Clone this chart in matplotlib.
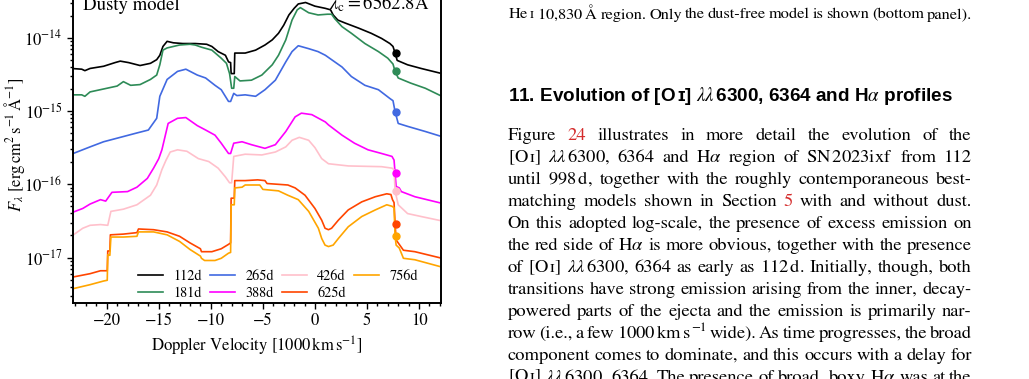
import numpy as np
import matplotlib
matplotlib.use("Agg")
import matplotlib.pyplot as plt
from matplotlib.ticker import MultipleLocator, LogLocator, NullFormatter

plt.rcParams['font.family'] = ['STIXGeneral', 'DejaVu Serif']
plt.rcParams['mathtext.fontset'] = 'stix'

# ---------------- data (velocity in 1000 km/s, log10 flux) ----------------
EPOCHS = ['112d', '181d', '265d', '388d', '426d', '625d', '756d']
COLORS = ['black', 'seagreen', 'royalblue', 'magenta', 'pink', 'orangered', 'orange']

VEL_112 = [-23.4, -22.4, -22.1, -21.6, -20.3, -19.2, -18.7, -17.9, -16.8, -15.8, -15.2, -14.9, -14.6, -14.2,
           -13.6, -12.7, -11.5, -10.4, -9.9, -9.3, -8.6, -8.3, -8.1, -8.05, -7.75, -7.7, -6.7, -5.7, -4.8,
           -4.1, -3.5, -3.0, -2.5, -2.0, -1.6, -0.9, 0.0, 1.0, 1.5, 1.75, 2.2, 2.9, 4.2, 5.4, 6.4, 7.2, 7.5,
           7.7, 7.9, 8.9, 10.2, 12.2]
LOGF_112 = [-14.42, -14.43, -14.45, -14.42, -14.39, -14.34, -14.32, -14.34, -14.38, -14.35, -14.30, -14.24,
            -14.12, -14.05, -14.07, -14.08, -14.08, -14.09, -14.12, -14.19, -14.24, -14.33, -14.34, -14.49,
            -14.49, -14.21, -14.21, -14.17, -14.10, -14.03, -13.94, -13.83, -13.69, -13.60, -13.54, -13.52,
            -13.57, -13.60, -13.62, -13.69, -13.76, -13.80, -13.87, -13.94, -14.01, -14.08, -14.12, -14.21,
            -14.31, -14.37, -14.42, -14.49]

VEL_181 = [-23.4, -22.4, -22.1, -21.6, -20.3, -19.0, -18.4, -17.7, -16.8, -15.8, -15.2, -14.9, -14.6, -14.2,
           -13.0, -12.0, -11.5, -10.9, -9.9, -9.0, -8.5, -8.2, -8.0, -7.8, -7.7, -7.2, -6.1, -5.1, -4.1,
           -3.5, -2.8, -2.2, -1.7, -1.4, -0.6, 0.3, 1.2, 1.6, 1.9, 2.6, 3.5, 4.8, 6.1, 7.0, 7.5, 7.7, 8.0,
           9.2, 10.6, 12.2]
LOGF_181 = [-14.78, -14.78, -14.80, -14.74, -14.70, -14.66, -14.60, -14.65, -14.64, -14.57, -14.51, -14.37,
            -14.17, -14.14, -14.10, -14.09, -14.10, -14.13, -14.17, -14.28, -14.35, -14.49, -14.69, -14.69,
            -14.53, -14.59, -14.58, -14.51, -14.37, -14.24, -14.03, -13.76, -13.62, -13.59, -13.66, -13.69,
            -13.68, -13.68, -13.74, -13.85, -13.94, -14.08, -14.19, -14.28, -14.36, -14.46, -14.55, -14.62,
            -14.69, -14.80]

VEL_265 = [-23.4, -21.6, -20.3, -18.7, -17.1, -16.0, -15.2, -14.9, -14.2, -13.2, -12.4, -11.3, -10.5, -9.6,
           -9.0, -8.3, -8.1, -7.8, -7.5, -6.7, -5.7, -4.8, -3.8, -2.8, -2.2, -1.6, -0.6, 0.3, 1.0, 1.6, 2.6,
           3.5, 4.8, 6.1, 7.2, 7.5, 7.7, 8.0, 8.9, 10.6, 12.2]
LOGF_265 = [-15.59, -15.49, -15.42, -15.36, -15.30, -15.26, -15.10, -14.80, -14.57, -14.46, -14.43, -14.51,
            -14.55, -14.65, -14.71, -14.87, -14.87, -14.76, -14.79, -14.78, -14.80, -14.71, -14.58, -14.33,
            -14.19, -14.11, -14.15, -14.19, -14.24, -14.30, -14.40, -14.53, -14.65, -14.71, -14.83, -14.86,
            -15.01, -15.17, -15.21, -15.28, -15.35]

VEL_388 = [-23.4, -22.3, -21.6, -20.6, -20.1, -19.8, -19.5, -18.0, -17.1, -16.1, -15.5, -15.0, -14.7, -14.1,
           -13.2, -12.4, -11.3, -10.5, -9.6, -9.0, -8.3, -8.1, -7.8, -7.0, -6.1, -4.8, -3.8, -2.8, -1.9,
           -1.3, -0.3, 1.0, 1.3, 2.6, 3.8, 5.1, 6.4, 7.4, 7.6, 7.7, 7.8, 8.1, 8.3, 9.6, 12.2]
LOGF_388 = [-16.39, -16.33, -16.27, -16.21, -16.23, -16.17, -16.11, -16.10, -16.04, -15.92, -15.78, -15.65,
            -15.53, -15.17, -15.10, -15.09, -15.20, -15.26, -15.33, -15.44, -15.58, -15.58, -15.44, -15.42,
            -15.46, -15.51, -15.46, -15.28, -15.08, -15.03, -15.05, -15.15, -15.19, -15.33, -15.44, -15.53,
            -15.58, -15.62, -15.67, -15.85, -16.03, -16.05, -16.10, -16.17, -16.26]

VEL_426 = [-23.4, -22.3, -21.6, -20.6, -19.9, -19.6, -18.4, -17.1, -15.8, -15.2, -14.7, -14.3, -13.9, -13.2,
           -12.3, -11.2, -10.2, -9.3, -8.6, -8.2, -8.0, -7.8, -6.7, -5.1, -3.8, -2.8, -2.2, -1.5, -0.6, 0.0,
           0.65, 1.3, 3.2, 6.4, 7.4, 7.6, 7.7, 8.0, 8.9, 10.2, 12.2]
LOGF_426 = [-16.71, -16.60, -16.56, -16.55, -16.56, -16.37, -16.34, -16.28, -16.15, -16.01, -15.80, -15.67,
            -15.56, -15.53, -15.55, -15.65, -15.69, -15.78, -15.90, -15.98, -15.98, -15.62, -15.59, -15.60,
            -15.56, -15.49, -15.40, -15.36, -15.40, -15.50, -15.65, -15.72, -15.75, -15.76, -15.78, -15.80,
            -16.09, -16.28, -16.40, -16.44, -16.50]

VEL_625 = [-23.4, -21.6, -20.6, -19.95, -19.9, -19.7, -19.65, -18.4, -17.1, -16.95, -15.5, -14.2, -13.0,
           -12.0, -11.0, -10.9, -9.9, -9.0, -8.3, -8.1, -8.05, -7.75, -7.7, -6.7, -5.5, -4.8, -4.6, -2.6,
           -1.9, -0.95, 0.0, 0.65, 0.97, 1.3, 1.6, 2.25, 3.2, 4.5, 5.8, 6.9, 7.3, 7.45, 7.6, 7.7, 7.8, 8.0,
           8.5, 9.6, 12.2]
LOGF_625 = [-17.27, -17.22, -17.18, -17.18, -16.91, -16.91, -16.69, -16.68, -16.66, -16.61, -16.62, -16.65,
            -16.71, -16.80, -16.88, -16.92, -16.92, -16.88, -16.82, -16.80, -16.19, -16.19, -15.95, -15.95,
            -15.94, -15.95, -15.99, -16.01, -16.05, -16.15, -16.33, -16.49, -16.60, -16.62, -16.60, -16.49,
            -16.35, -16.24, -16.17, -16.13, -16.14, -16.21, -16.25, -16.54, -16.76, -16.80, -16.90, -16.92,
            -17.01]

VEL_756 = [-23.4, -21.6, -20.3, -19.95, -19.9, -19.7, -19.6, -18.4, -17.1, -16.95, -15.5, -14.2, -13.0,
           -12.0, -11.0, -10.9, -10.6, -9.6, -9.0, -8.3, -8.1, -8.05, -7.75, -7.7, -7.0, -6.7, -5.3, -5.0,
           -3.5, -2.6, -1.6, -0.6, 0.33, 0.65, 0.97, 1.3, 1.75, 2.25, 3.2, 4.5, 5.8, 6.9, 7.4, 7.6, 7.7, 7.8,
           8.1, 8.5, 9.6, 12.2]
LOGF_756 = [-17.43, -17.37, -17.32, -17.31, -16.96, -16.97, -16.72, -16.72, -16.71, -16.65, -16.65, -16.69,
            -16.78, -16.89, -16.98, -17.01, -17.04, -17.04, -17.01, -16.94, -16.93, -16.28, -16.28, -16.05,
            -16.04, -16.01, -16.01, -16.07, -16.09, -16.15, -16.21, -16.37, -16.60, -16.74, -16.83, -16.85,
            -16.83, -16.74, -16.58, -16.44, -16.35, -16.28, -16.30, -16.32, -16.71, -16.83, -16.87, -17.01,
            -17.03, -17.13]

DOT_VEL = 7.75
DOT_LOGF = [-14.21, -14.46, -15.01, -15.85, -16.09, -16.54, -16.71]

VELS = [VEL_112, VEL_181, VEL_265, VEL_388, VEL_426, VEL_625, VEL_756]
LOGFS = [LOGF_112, LOGF_181, LOGF_265, LOGF_388, LOGF_426, LOGF_625, LOGF_756]

# ---------------- figure ----------------
W, H = 1029, 379
fig = plt.figure(figsize=(W / 100, H / 100), dpi=100)
ax = fig.add_axes([73 / W, 76 / H, 368 / W, 317 / H])

for v, lf, c, lab in zip(VELS, LOGFS, COLORS, EPOCHS):
    ax.plot(v, 10 ** np.array(lf), color=c, lw=1.2, label=lab)
for lf, c in zip(DOT_LOGF, COLORS):
    ax.plot([DOT_VEL], [10 ** lf], 'o', color=c, ms=5, zorder=5)

ax.set_yscale('log')
ax.set_xlim(-23.24, 12.11)
ax.set_ylim(10 ** -17.62, 10 ** -13.295)
ax.xaxis.set_major_locator(MultipleLocator(5))
ax.xaxis.set_minor_locator(MultipleLocator(1))
ax.yaxis.set_major_locator(LogLocator(base=10))
ax.yaxis.set_minor_locator(LogLocator(base=10, subs=np.arange(2, 10)))
ax.yaxis.set_minor_formatter(NullFormatter())
ax.tick_params(which='both', direction='out', width=1.0, labelsize=12)
ax.tick_params(which='major', length=4)
ax.tick_params(which='minor', length=2.5)
for s in ax.spines.values():
    s.set_linewidth(1.4)

ax.set_xlabel(r'Doppler Velocity [1000$\,$km$\,$s$^{-1}$]', fontsize=12, labelpad=4)
ax.set_ylabel(r'$F_\lambda\ [\mathrm{erg\,cm^2\,s^{-1}\,\AA^{-1}}]$', fontsize=12)
ax.yaxis.set_label_coords(-0.126, 0.5)

ax.text(0.027, 0.925, 'Dusty model', transform=ax.transAxes, fontsize=13.5, va='baseline')
ax.text(0.970, 0.925, r'$\lambda_{\mathrm{c}} = 6562.8$Å', transform=ax.transAxes, fontsize=13.5,
        va='baseline', ha='right')

ax.legend(ncol=4, frameon=False, fontsize=10.3, handlelength=1.75, handletextpad=0.7,
          columnspacing=0.6, labelspacing=0.25, loc='lower center',
          bbox_to_anchor=(0.557, -0.01), borderaxespad=0)

# ---------------- page text on the right ----------------
RED = '#d42a2a'
renderer = fig.canvas.get_renderer()
X0, X1 = 507.7, 971.7


def make_word(w, base_px, fs):
    """Return list of (text_artist, x_offset_px) and total width in px."""
    col = 'black'
    sup = None
    if isinstance(w, tuple):
        if w[1] == 'SUP':
            w, sup = w[0], w[2]
        else:
            w, col = w
    t = fig.text(0, 1 - base_px / H, w, fontsize=fs, color=col, va='baseline', ha='left')
    wd = t.get_window_extent(renderer).width
    parts = [(t, 0.0)]
    if sup is not None:
        ts = fig.text(0, 1 - (base_px - fs * 0.5) / H, sup, fontsize=fs * 0.7, color=col,
                      va='baseline', ha='left')
        parts.append((ts, wd + 0.5))
        wd += ts.get_window_extent(renderer).width + 0.5
    return parts, wd


def justify(words, base_px, fs):
    items = [make_word(w, base_px, fs) for w in words]
    ws = [wd for _, wd in items]
    gap = (X1 - X0 - sum(ws)) / (len(ws) - 1)
    if gap < 2.5:  # too long: shrink this line a bit
        for parts, _ in items:
            for t, _ in parts:
                t.remove()
        return justify(words, base_px, fs * 0.97)
    x = X0
    for (parts, wd) in items:
        for t, off in parts:
            t.set_x((x + off) / W)
        x += wd + gap


OI = '[O$\\,$ɪ]'
LL = r'$\lambda\lambda\,$6300,'
HA = r'H$\alpha$'
KMS = ('1000$\\,$km$\\,$s', 'SUP', '\u22121')

caption = ['He$\\,$ɪ', '10,830$\\,$Å', 'region.', 'Only', 'the', 'dust-free', 'model', 'is', 'shown',
           '(bottom', 'panel).']
justify(caption, 18.5, 12.9)

fig.text(X0 / W, 1 - 101 / H,
         r'11. Evolution of [O$\,$ɪ] $\lambda\lambda\,$6300, 6364 and H$\alpha$ profiles',
         fontsize=13.6, fontweight='bold', family=['Liberation Sans', 'DejaVu Sans'],
         va='baseline', ha='left')

para = [
    ['Figure', ('24', RED), 'illustrates', 'in', 'more', 'detail', 'the', 'evolution', 'of', 'the'],
    [OI, LL, '6364', 'and', HA, 'region', 'of', 'SN$\\,$2023ixf', 'from', '112'],
    ['until', '998$\\,$d,', 'together', 'with', 'the', 'roughly', 'contemporaneous', 'best-'],
    ['matching', 'models', 'shown', 'in', 'Section', ('5', RED), 'with', 'and', 'without', 'dust.'],
    ['On', 'this', 'adopted', 'log-scale,', 'the', 'presence', 'of', 'excess', 'emission', 'on'],
    ['the', 'red', 'side', 'of', HA, 'is', 'more', 'obvious,', 'together', 'with', 'the', 'presence'],
    ['of', OI, LL, '6364', 'as', 'early', 'as', '112$\\,$d.', 'Initially,', 'though,', 'both'],
    ['transitions', 'have', 'strong', 'emission', 'arising', 'from', 'the', 'inner,', 'decay-'],
    ['powered', 'parts', 'of', 'the', 'ejecta', 'and', 'the', 'emission', 'is', 'primarily', 'nar-'],
    ['row', '(i.e.,', 'a', 'few', KMS, 'wide).', 'As', 'time', 'progresses,', 'the', 'broad'],
    ['component', 'comes', 'to', 'dominate,', 'and', 'this', 'occurs', 'with', 'a', 'delay', 'for'],
    [OI, r'$\lambda\lambda\,$6300,', '6364.', 'The', 'presence', 'of', 'broad,', 'boxy', HA, 'was', 'at',
     'the'],
]
for i, words in enumerate(para):
    justify(words, 140.0 + 21.97 * i, 13.3)

fig.savefig('out.png', dpi=100)
